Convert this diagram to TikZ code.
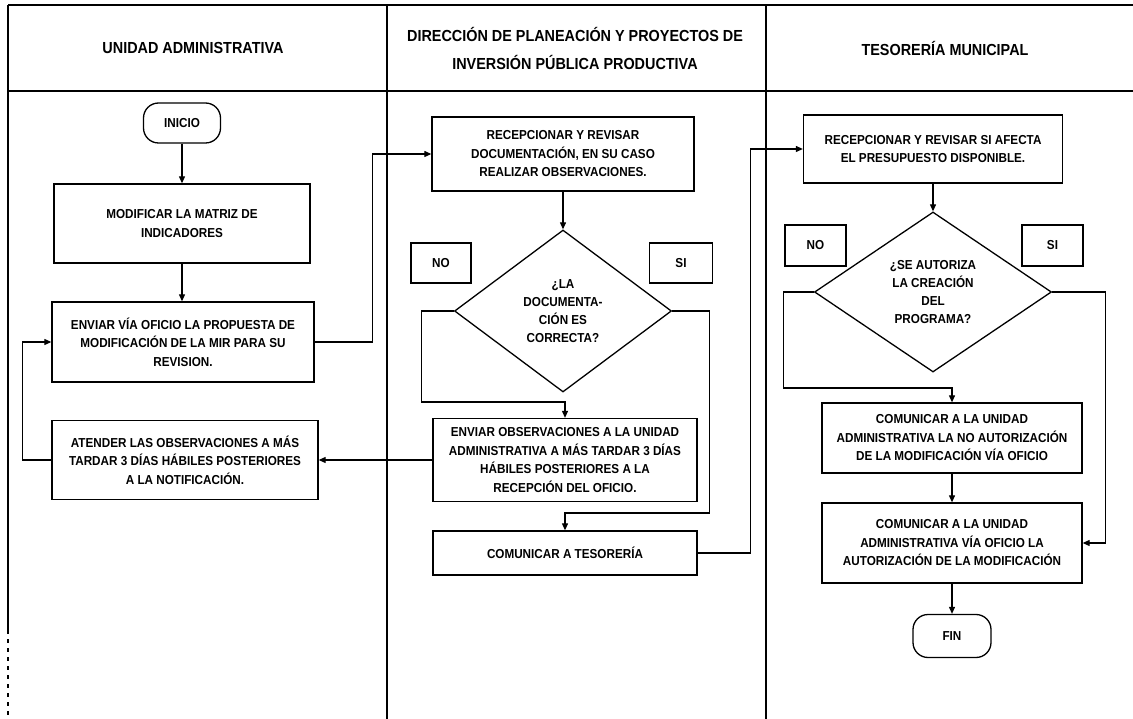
\documentclass[tikz,border=0pt]{standalone}
\usepackage{fontspec}
\setmainfont{Liberation Sans}[FakeStretch=0.9]
\usetikzlibrary{arrows.meta,shapes.geometric}
\begin{document}
\begin{tikzpicture}[x=1pt,y=-1pt,
  lane/.style={line width=1.6pt,black},
  procbox/.style={draw,line width=1.3pt,inner sep=0pt,align=center,font=\bfseries\fontsize{13}{18.5}\selectfont},
  term/.style={draw,line width=1.3pt,rounded corners=15pt,inner sep=0pt,align=center,font=\bfseries\fontsize{13}{18.5}\selectfont},
  dec/.style={draw,diamond,line width=1.3pt,inner sep=0pt,align=center,font=\bfseries\fontsize{13}{18}\selectfont},
  hdr/.style={align=center,font=\bfseries\fontsize{16}{28}\selectfont},
  arr/.style={line width=1.1pt,-{Triangle[length=7pt,width=6pt]}},
  conn/.style={line width=1.1pt}
]
\useasboundingbox (0,0) rectangle (1133,719);
% frame
\draw[lane] (8,5) -- (1133,5);
\draw[lane] (8,91) -- (1133,91);
\draw[lane] (8,5) -- (8,630);
\draw[line width=1.6pt,dash pattern=on 4pt off 5pt] (8,630) -- (8,719);
\draw[lane] (387,5) -- (387,719);
\draw[lane] (766,5) -- (766,719);
% headers
\node[hdr] (h1) at (193,48) {UNIDAD ADMINISTRATIVA};
\node[hdr] (h2) at (575,48) {DIRECCIÓN DE PLANEACIÓN Y PROYECTOS DE\\INVERSIÓN PÚBLICA PRODUCTIVA};
\node[hdr] (h3) at (945,48) {TESORERÍA MUNICIPAL};
% lane 1
\node[term,minimum width=77pt,minimum height=40pt] (inicio) at (182,123) {INICIO};
\node[procbox,minimum width=256pt,minimum height=79pt] (b1) at (182,223.5) {MODIFICAR LA MATRIZ DE\\INDICADORES};
\node[procbox,minimum width=262pt,minimum height=80pt] (b2) at (183,342) {ENVIAR VÍA OFICIO LA PROPUESTA DE\\MODIFICACIÓN DE LA MIR PARA SU\\REVISION.};
\node[procbox,minimum width=266pt,minimum height=79pt] (b4) at (185,460) {ATENDER LAS OBSERVACIONES A MÁS\\TARDAR 3 DÍAS HÁBILES POSTERIORES\\A LA NOTIFICACIÓN.};
% lane 2
\node[procbox,minimum width=262pt,minimum height=74pt] (b3) at (563,154) {RECEPCIONAR Y REVISAR\\DOCUMENTACIÓN, EN SU CASO\\REALIZAR OBSERVACIONES.};
\node[dec,minimum width=217pt,minimum height=162pt] (d1) at (563,311) {¿LA\\DOCUMENTA-\\CIÓN ES\\CORRECTA?};
\node[procbox,minimum width=60pt,minimum height=40pt] (no1) at (441,263) {NO};
\node[procbox,minimum width=63pt,minimum height=40pt] (si1) at (681,263) {SI};
\node[procbox,minimum width=264pt,minimum height=83pt] (b5) at (565,460) {ENVIAR OBSERVACIONES A LA UNIDAD\\ADMINISTRATIVA A MÁS TARDAR 3 DÍAS\\HÁBILES POSTERIORES A LA\\RECEPCIÓN DEL OFICIO.};
\node[procbox,minimum width=264pt,minimum height=44pt] (b6) at (565,553) {COMUNICAR A TESORERÍA};
% lane 3
\node[procbox,minimum width=259pt,minimum height=68pt] (b7) at (933,149) {RECEPCIONAR Y REVISAR SI AFECTA\\EL PRESUPUESTO DISPONIBLE.};
\node[dec,minimum width=237pt,minimum height=160pt] (d2) at (933,292) {¿SE AUTORIZA\\LA CREACIÓN\\DEL\\PROGRAMA?};
\node[procbox,minimum width=61pt,minimum height=41pt] (no2) at (815.5,245.5) {NO};
\node[procbox,minimum width=61pt,minimum height=41pt] (si2) at (1052.5,245.5) {SI};
\node[procbox,minimum width=260pt,minimum height=70pt] (b8) at (952,438) {COMUNICAR A LA UNIDAD\\ADMINISTRATIVA LA NO AUTORIZACIÓN\\DE LA MODIFICACIÓN VÍA OFICIO};
\node[procbox,minimum width=260pt,minimum height=80pt] (b9) at (952,543) {COMUNICAR A LA UNIDAD\\ADMINISTRATIVA VÍA OFICIO LA\\AUTORIZACIÓN DE LA MODIFICACIÓN};
\node[term,minimum width=78pt,minimum height=43pt] (fin) at (952,636) {FIN};
% connectors
\draw[arr] (inicio) -- (b1);
\draw[arr] (b1) -- (b1 |- b2.north);
\draw[arr] (b2.east) -- ++(58,0) |- (b3.west);
\draw[arr] (b4.west) -- ++(-29,0) |- (b2.west);
\draw[arr] (b5.west) -- (b4.east);
\draw[arr] (b3) -- (d1);
\draw[arr] (d1.west) -- ++(-32,0) -- ++(0,91) -| (b5.north);
\draw[arr] (d1.east) -- ++(37,0) -- ++(0,202) -| (b6.north);
\draw[arr] (b6.east) -- ++(53,0) |- (b7.west);
\draw[arr] (b7) -- (d2);
\draw[arr] (d2.west) -- ++(-30,0) -- ++(0,96) -| (b8.north);
\draw[arr] (d2.east) -- ++(53,0) |- (b9.east);
\draw[arr] (b8) -- (b9);
\draw[arr] (b9) -- (fin);
\end{tikzpicture}
\end{document}
